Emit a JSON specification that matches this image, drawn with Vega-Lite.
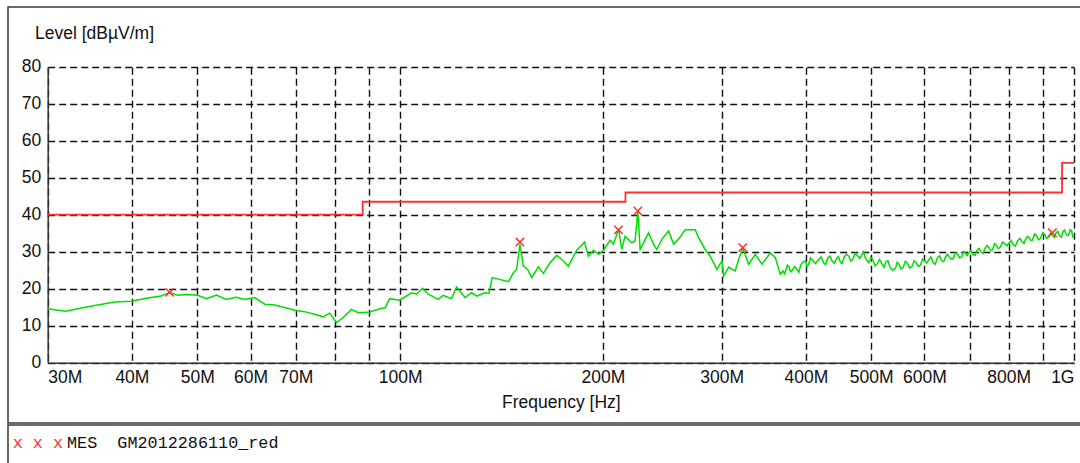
{
  "$schema": "https://vega.github.io/schema/vega-lite/v6.json",
  "padding": {"left": 7, "top": 6, "right": 0, "bottom": 0},
  "spacing": 0,
  "background": "white",
  "config": {
    "view": {"stroke": "#3a3a3a", "strokeWidth": 1.5, "fill": "white"},
    "font": "Liberation Sans",
    "axis": {
      "labelFont": "Liberation Sans",
      "titleFont": "Liberation Sans",
      "labelFontSize": 17.5,
      "titleFontSize": 17.5,
      "titleFontWeight": "normal",
      "labelColor": "#111",
      "titleColor": "#111"
    }
  },
  "datasets": {
    "limit": [
      {"f": 30, "level": 40},
      {"f": 88, "level": 43.5},
      {"f": 216, "level": 46},
      {"f": 960, "level": 54},
      {"f": 1000, "level": 54}
    ],
    "trace": [
      {"f": 30.0, "level": 14.6}, {"f": 31.9, "level": 13.9}, {"f": 34.4, "level": 15.1}, {"f": 37.7, "level": 16.4},
      {"f": 39.9, "level": 16.6}, {"f": 42.2, "level": 17.5}, {"f": 44.2, "level": 18.0}, {"f": 45.5, "level": 19.0},
      {"f": 46.8, "level": 18.2}, {"f": 48.4, "level": 18.4}, {"f": 50.1, "level": 18.2}, {"f": 51.6, "level": 17.3},
      {"f": 53.4, "level": 18.3}, {"f": 55.2, "level": 17.1}, {"f": 57.1, "level": 17.7}, {"f": 58.8, "level": 17.1},
      {"f": 60.8, "level": 17.6}, {"f": 63.0, "level": 15.8}, {"f": 65.1, "level": 15.6}, {"f": 67.4, "level": 14.9},
      {"f": 69.8, "level": 14.2}, {"f": 72.2, "level": 13.8}, {"f": 74.7, "level": 13.1}, {"f": 76.9, "level": 12.4},
      {"f": 78.6, "level": 13.4}, {"f": 80.5, "level": 10.8}, {"f": 82.3, "level": 12.2}, {"f": 84.7, "level": 14.4},
      {"f": 86.7, "level": 13.5}, {"f": 90.2, "level": 13.7}, {"f": 93.8, "level": 14.7}, {"f": 95.0, "level": 14.8},
      {"f": 96.5, "level": 17.3}, {"f": 99.9, "level": 16.9}, {"f": 104.0, "level": 18.9}, {"f": 105.8, "level": 18.5},
      {"f": 107.9, "level": 20.1}, {"f": 110.1, "level": 18.5}, {"f": 113.9, "level": 17.1}, {"f": 115.9, "level": 18.2},
      {"f": 119.2, "level": 17.3}, {"f": 121.3, "level": 20.5}, {"f": 124.8, "level": 17.6}, {"f": 127.7, "level": 18.9},
      {"f": 129.9, "level": 18.0}, {"f": 133.6, "level": 18.9}, {"f": 135.5, "level": 18.8}, {"f": 137.0, "level": 23.0},
      {"f": 144.8, "level": 21.9}, {"f": 147.3, "level": 24.3}, {"f": 148.9, "level": 25.2}, {"f": 150.6, "level": 32.0},
      {"f": 152.4, "level": 26.1}, {"f": 154.6, "level": 25.2}, {"f": 156.8, "level": 23.0}, {"f": 160.4, "level": 25.9},
      {"f": 163.2, "level": 24.1}, {"f": 166.9, "level": 27.0}, {"f": 170.8, "level": 29.0}, {"f": 173.7, "level": 27.9},
      {"f": 177.7, "level": 26.1}, {"f": 182.9, "level": 30.4}, {"f": 187.8, "level": 32.6}, {"f": 190.3, "level": 28.8},
      {"f": 193.6, "level": 30.4}, {"f": 197.0, "level": 29.3}, {"f": 200.4, "level": 30.4}, {"f": 204.9, "level": 33.1},
      {"f": 207.3, "level": 32.0}, {"f": 210.9, "level": 36.1}, {"f": 213.3, "level": 30.6}, {"f": 215.7, "level": 34.2},
      {"f": 220.7, "level": 32.4}, {"f": 223.2, "level": 32.9}, {"f": 225.3, "level": 41.0}, {"f": 227.1, "level": 30.6},
      {"f": 233.7, "level": 35.1}, {"f": 237.8, "level": 32.0}, {"f": 240.4, "level": 30.6}, {"f": 244.6, "level": 33.4},
      {"f": 250.3, "level": 35.6}, {"f": 254.6, "level": 32.0}, {"f": 259.0, "level": 33.4}, {"f": 264.9, "level": 35.9},
      {"f": 274.1, "level": 35.9}, {"f": 277.3, "level": 33.8}, {"f": 283.6, "level": 30.6}, {"f": 288.5, "level": 28.8},
      {"f": 295.2, "level": 25.2}, {"f": 300.3, "level": 27.5}, {"f": 302.1, "level": 23.4}, {"f": 307.3, "level": 25.8},
      {"f": 314.3, "level": 24.8}, {"f": 318.0, "level": 27.9}, {"f": 322.4, "level": 31.0}, {"f": 329.0, "level": 26.6},
      {"f": 336.6, "level": 29.3}, {"f": 344.4, "level": 26.6}, {"f": 354.3, "level": 29.7}, {"f": 360.4, "level": 28.4},
      {"f": 366.6, "level": 23.9}, {"f": 370, "level": 24.8}, {"f": 372, "level": 24.0}, {"f": 374, "level": 25.3},
      {"f": 375.6, "level": 26.4}, {"f": 377.3, "level": 26.1}, {"f": 379.6, "level": 24.6}, {"f": 382, "level": 25.0},
      {"f": 385, "level": 26.0}, {"f": 388.2, "level": 25.2}, {"f": 390.6, "level": 24.4}, {"f": 393, "level": 26.4},
      {"f": 396, "level": 27.2}, {"f": 399.4, "level": 27.5}, {"f": 401.7, "level": 26.0}, {"f": 404, "level": 26.6},
      {"f": 406.5, "level": 28.3}, {"f": 409, "level": 27.8}, {"f": 413.5, "level": 26.8}, {"f": 418.1, "level": 27.9},
      {"f": 421.5, "level": 28.6}, {"f": 425, "level": 27.0}, {"f": 428, "level": 26.5}, {"f": 431, "level": 28.3},
      {"f": 434.3, "level": 28.8}, {"f": 437.6, "level": 27.5}, {"f": 440.8, "level": 26.9}, {"f": 444, "level": 28.0},
      {"f": 447, "level": 28.7}, {"f": 450, "level": 27.2}, {"f": 453, "level": 26.8}, {"f": 456, "level": 28.6},
      {"f": 459.6, "level": 29.3}, {"f": 463.3, "level": 28.8}, {"f": 466.6, "level": 27.5}, {"f": 470, "level": 28.0},
      {"f": 473.5, "level": 29.6}, {"f": 477, "level": 29.0}, {"f": 481, "level": 28.2}, {"f": 484.9, "level": 29.3},
      {"f": 487.4, "level": 30.0}, {"f": 490, "level": 28.4}, {"f": 493, "level": 27.6}, {"f": 496.1, "level": 27.0},
      {"f": 499.5, "level": 28.4}, {"f": 503, "level": 27.8}, {"f": 506.5, "level": 26.2}, {"f": 510, "level": 26.6},
      {"f": 514.6, "level": 27.9}, {"f": 519.2, "level": 26.6}, {"f": 522.6, "level": 25.8}, {"f": 526, "level": 27.3},
      {"f": 529.5, "level": 27.6}, {"f": 533, "level": 25.9}, {"f": 538.2, "level": 25.0}, {"f": 543.4, "level": 25.5},
      {"f": 546.7, "level": 27.2}, {"f": 550, "level": 26.6}, {"f": 554, "level": 25.3}, {"f": 558, "level": 25.8},
      {"f": 562, "level": 27.4}, {"f": 566, "level": 26.9}, {"f": 570.6, "level": 25.6}, {"f": 575.3, "level": 26.1},
      {"f": 579, "level": 27.6}, {"f": 583, "level": 27.0}, {"f": 587.5, "level": 26.0}, {"f": 592, "level": 26.4},
      {"f": 596, "level": 28.0}, {"f": 600, "level": 27.5}, {"f": 604.5, "level": 26.9}, {"f": 609.1, "level": 27.9},
      {"f": 613.5, "level": 28.6}, {"f": 618, "level": 27.0}, {"f": 622.5, "level": 26.6}, {"f": 627, "level": 28.3},
      {"f": 631.5, "level": 28.9}, {"f": 636, "level": 27.6}, {"f": 640.5, "level": 27.3}, {"f": 645, "level": 28.6},
      {"f": 648.6, "level": 29.3}, {"f": 652.3, "level": 28.8}, {"f": 657, "level": 28.0}, {"f": 662, "level": 28.1},
      {"f": 667, "level": 29.8}, {"f": 672, "level": 29.3}, {"f": 677, "level": 28.3}, {"f": 682, "level": 28.7},
      {"f": 686, "level": 30.1}, {"f": 690, "level": 29.6}, {"f": 694, "level": 29.0}, {"f": 698.5, "level": 29.7},
      {"f": 703, "level": 30.3}, {"f": 708, "level": 29.2}, {"f": 713, "level": 29.0}, {"f": 718, "level": 30.4},
      {"f": 723, "level": 30.9}, {"f": 728, "level": 29.9}, {"f": 733, "level": 29.5}, {"f": 738, "level": 31.0},
      {"f": 743, "level": 31.7}, {"f": 747.9, "level": 31.1}, {"f": 752.5, "level": 30.3}, {"f": 757, "level": 30.5},
      {"f": 762, "level": 32.2}, {"f": 767, "level": 31.7}, {"f": 772, "level": 30.8}, {"f": 777, "level": 31.2},
      {"f": 783.5, "level": 32.6}, {"f": 790, "level": 32.1}, {"f": 795.5, "level": 31.6}, {"f": 801, "level": 32.4},
      {"f": 806.5, "level": 33.0}, {"f": 812, "level": 31.9}, {"f": 818.5, "level": 31.5}, {"f": 825, "level": 33.0},
      {"f": 831.5, "level": 33.6}, {"f": 838, "level": 32.6}, {"f": 843, "level": 32.2}, {"f": 848, "level": 33.5},
      {"f": 853, "level": 34.1}, {"f": 857.7, "level": 33.8}, {"f": 863, "level": 33.0}, {"f": 868, "level": 33.2},
      {"f": 874, "level": 34.8}, {"f": 880, "level": 34.3}, {"f": 886, "level": 33.2}, {"f": 892, "level": 33.7},
      {"f": 898.5, "level": 35.1}, {"f": 905, "level": 34.6}, {"f": 911, "level": 33.6}, {"f": 917, "level": 34.0},
      {"f": 923, "level": 35.0}, {"f": 929, "level": 34.4}, {"f": 934.5, "level": 33.9}, {"f": 940, "level": 35.0},
      {"f": 946, "level": 35.5}, {"f": 952, "level": 34.3}, {"f": 957.5, "level": 33.9}, {"f": 963, "level": 35.4},
      {"f": 967.5, "level": 35.9}, {"f": 972, "level": 35.1}, {"f": 977, "level": 34.4}, {"f": 982, "level": 34.5},
      {"f": 987, "level": 35.9}, {"f": 992, "level": 35.6}, {"f": 996, "level": 34.0}, {"f": 1000, "level": 34.2}
    ],
    "peaks": [
      {"f": 45.5, "level": 19.0},
      {"f": 150.6, "level": 32.6},
      {"f": 210.9, "level": 35.9},
      {"f": 225.3, "level": 41.0},
      {"f": 322.4, "level": 31.1},
      {"f": 928.8, "level": 35.1}
    ],
    "legendRows": [
      {"item": "marker", "label": "x x x"},
      {"item": "name", "label": "MES\u00a0\u00a0GM2012286110_red"}
    ]
  },
  "vconcat": [
    {
      "width": 1075,
      "height": 416,
      "encoding": {
        "x": {
          "field": "f",
          "type": "quantitative",
          "scale": {"type": "log", "domain": [30, 1000], "range": [39.7, 1066], "nice": false},
          "axis": {
            "title": "Frequency [Hz]",
            "orient": "bottom",
            "offset": -60.3,
            "values": [30, 40, 50, 60, 70, 80, 90, 100, 200, 300, 400, 500, 600, 700, 800, 900, 1000],
            "labelExpr": "datum.value == 80 || datum.value == 90 || datum.value == 700 || datum.value == 900 ? '' : (datum.value >= 1000 ? '1G' : datum.value + 'M')",
            "labelFlush": true,
            "labelOverlap": false,
            "labelPadding": 6,
            "ticks": false,
            "domainColor": "#333",
            "domainWidth": 1.5,
            "grid": true,
            "gridColor": "#111",
            "gridDash": [7, 4],
            "gridWidth": 1.4,
            "gridOpacity": 1,
            "titleY": 40,
            "titleBaseline": "middle"
          }
        },
        "y": {
          "field": "level",
          "type": "quantitative",
          "scale": {"domain": [0, 80], "range": [355.7, 59.7], "nice": false, "zero": false},
          "axis": {
            "title": "Level [dBµV/m]",
            "orient": "left",
            "offset": -39.7,
            "values": [0, 10, 20, 30, 40, 50, 60, 70, 80],
            "labelPadding": 7,
            "ticks": false,
            "domainColor": "#333",
            "domainWidth": 1.5,
            "grid": true,
            "gridColor": "#111",
            "gridDash": [7, 4],
            "gridWidth": 1.4,
            "gridOpacity": 1,
            "titleAngle": 0,
            "titleAlign": "left",
            "titleBaseline": "middle",
            "titleX": -13.2,
            "titleY": 26
          }
        }
      },
      "layer": [
        {
          "data": {"name": "limit"},
          "mark": {"type": "line", "interpolate": "step-after", "color": "#ff3030", "strokeWidth": 1.8}
        },
        {
          "data": {"name": "trace"},
          "mark": {"type": "line", "color": "#00dd00", "strokeWidth": 1.5}
        },
        {
          "data": {"name": "peaks"},
          "mark": {"type": "point", "shape": "M-1,-1L1,1M-1,1L1,-1", "filled": false, "color": "#ff3030", "size": 70, "strokeWidth": 1.5, "opacity": 1}
        }
      ]
    },
    {
      "width": 1075,
      "height": 46,
      "data": {"name": "legendRows"},
      "mark": {"type": "text", "font": "Liberation Mono", "fontSize": 16.8, "align": "left", "baseline": "alphabetic"},
      "encoding": {
        "x": {
          "field": "item",
          "type": "nominal",
          "scale": {"type": "point", "domain": ["marker", "name"], "range": [4.7, 59], "padding": 0},
          "axis": null
        },
        "text": {"field": "label"},
        "color": {
          "field": "item",
          "type": "nominal",
          "scale": {"domain": ["marker", "name"], "range": ["#ff3030", "#111111"]},
          "legend": null
        }
      }
    }
  ]
}
